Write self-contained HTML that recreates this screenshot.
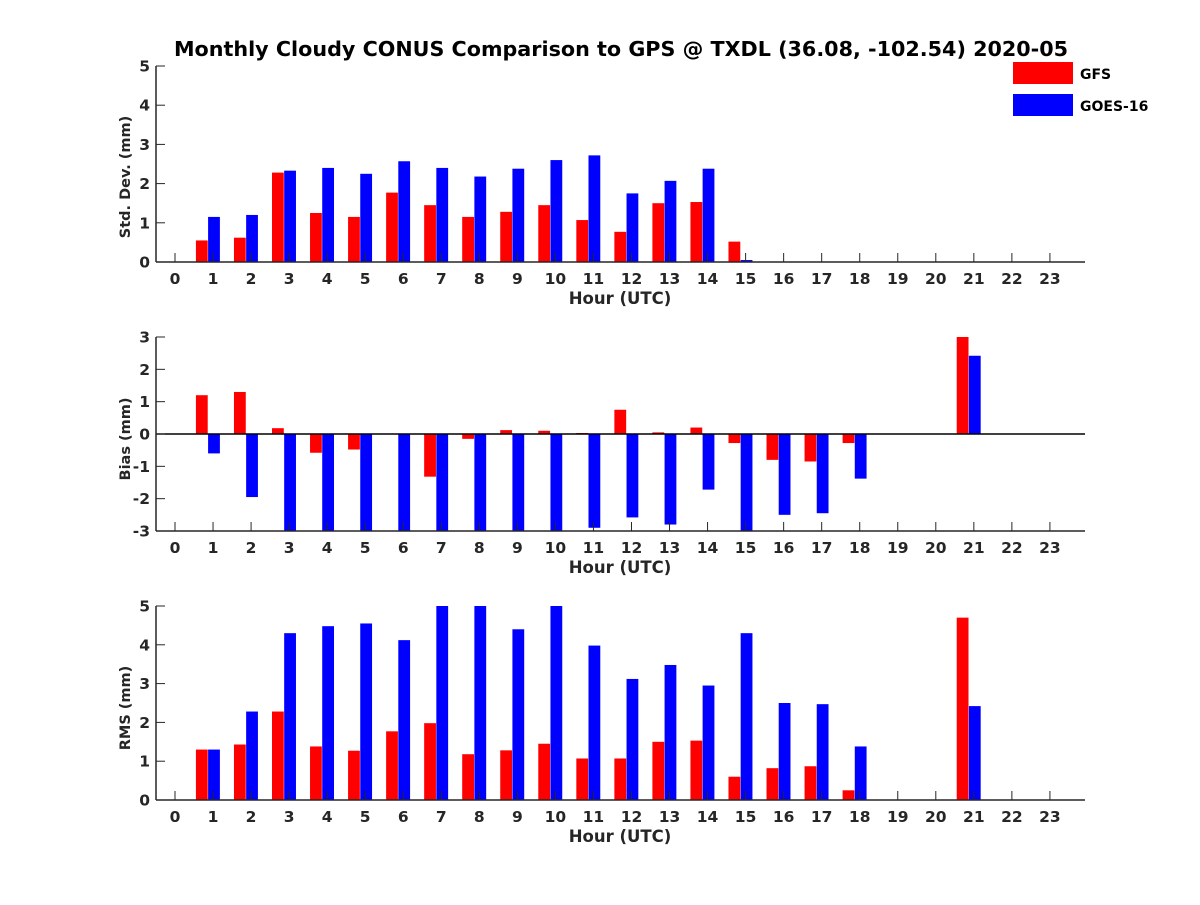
<!DOCTYPE html>
<html><head><meta charset="utf-8"><style>
body{margin:0;background:#fff}
svg text{font-family:"DejaVu Sans","Liberation Sans",sans-serif;font-weight:bold;fill:#262626}
</style></head><body>
<svg id="chart" width="1200" height="900" xmlns="http://www.w3.org/2000/svg">
<rect width="1200" height="900" fill="#fff"/>
<text x="621" y="56" text-anchor="middle" font-size="20.7" style="fill:#000">Monthly Cloudy CONUS Comparison to GPS @ TXDL (36.08, -102.54) 2020-05</text>
<g>
<rect x="1013" y="62" width="60" height="22" fill="#f00"/>
<text x="1080" y="79" font-size="14" style="fill:#000">GFS</text>
<rect x="1013" y="94" width="60" height="22" fill="#00f"/>
<text x="1080" y="111" font-size="14" style="fill:#000">GOES-16</text>
</g>
</svg>
<script>
const hours=[0,1,2,3,4,5,6,7,8,9,10,11,12,13,14,15,16,17,18,19,20,21,22,23];
const stdGFS=[0,0.55,0.62,2.28,1.25,1.15,1.77,1.45,1.15,1.28,1.45,1.07,0.77,1.5,1.53,0.52,0,0,0,0,0,0,0,0];
const stdGOES=[0,1.15,1.2,2.33,2.4,2.25,2.57,2.4,2.18,2.38,2.6,2.72,1.75,2.07,2.38,0.05,0,0,0,0,0,0,0,0];
const biasGFS=[0,1.2,1.3,0.18,-0.58,-0.48,0,-1.32,-0.15,0.12,0.1,0.03,0.75,0.05,0.2,-0.28,-0.8,-0.85,-0.28,0,0,3.0,0,0];
const biasGOES=[0,-0.6,-1.95,-3.5,-3.5,-3.5,-3.5,-3.5,-3.5,-3.5,-3.5,-2.9,-2.58,-2.8,-1.72,-3.5,-2.5,-2.45,-1.38,0,0,2.42,0,0];
const rmsGFS=[0,1.3,1.43,2.28,1.38,1.27,1.77,1.98,1.18,1.28,1.45,1.07,1.07,1.5,1.53,0.6,0.82,0.87,0.25,0,0,4.7,0,0];
const rmsGOES=[0,1.3,2.28,4.3,4.48,4.55,4.12,5.5,5.5,4.4,5.5,3.98,3.12,3.48,2.95,4.3,2.5,2.47,1.38,0,0,2.42,0,0];
const svg=document.getElementById('chart');
const NS='http://www.w3.org/2000/svg';
function mk(t,a){const e=document.createElementNS(NS,t);for(const k in a)e.setAttribute(k,a[k]);svg.appendChild(e);return e;}
const X0=156,X1=1085;
const xs=h=>175+h*38.04;
function panel(name,top,bot,ymin,ymax,yticks,ylabel,gfs,goes,cy){
  const ys=v=>bot-(v-ymin)/(ymax-ymin)*(bot-top);
  const clip=v=>Math.max(ymin,Math.min(ymax,v));
  const base=ys(clip(0));
  hours.forEach((h,i)=>{
    [[gfs[i],-0.45,'#f00','gfs'],[goes[i],-0.13,'#00f','goes']].forEach(([v,o,c,s])=>{
      if(!v)return;
      const y=ys(clip(v));
      const r=mk('rect',{x:xs(h+o),y:Math.min(y,base),width:0.31*38.04,height:Math.abs(y-base),fill:c});
      
      
    });
  });
  if(ymin<0){const z=mk('line',{x1:X0,x2:X1,y1:ys(0),y2:ys(0),stroke:'#000','stroke-width':1.5});
    }
  const ax=mk('line',{x1:X0,x2:X1,y1:bot,y2:bot,stroke:'#262626','stroke-width':1.5});
  
  const ay=mk('line',{x1:X0,x2:X0,y1:top,y2:bot,stroke:'#262626','stroke-width':1.5});
  
  hours.forEach(h=>{
    mk('line',{x1:xs(h),x2:xs(h),y1:bot,y2:bot-9,stroke:'#262626'});
    const t=mk('text',{x:xs(h),y:bot+22,'text-anchor':'middle','font-size':15.5});t.textContent=h;
    
  });
  yticks.forEach(v=>{
    mk('line',{x1:X0,x2:X0+9,y1:ys(v),y2:ys(v),stroke:'#262626'});
    const t=mk('text',{x:X0-6,y:ys(v)+5.5,'text-anchor':'end','font-size':15.5});t.textContent=v;
    
  });
  const xl=mk('text',{x:620,y:bot+42,'text-anchor':'middle','font-size':16.5});xl.textContent='Hour (UTC)';
  
  const yl=mk('text',{x:0,y:0,'text-anchor':'middle','font-size':14.5,transform:`translate(130,${cy}) rotate(-90)`});yl.textContent=ylabel;
  
}
panel('std-dev',66,262,0,5,[0,1,2,3,4,5],'Std. Dev. (mm)',stdGFS,stdGOES,177);
panel('bias',337,531,-3,3,[-3,-2,-1,0,1,2,3],'Bias (mm)',biasGFS,biasGOES,439);
panel('rms',606,800,0,5,[0,1,2,3,4,5],'RMS (mm)',rmsGFS,rmsGOES,708);
</script>
</body></html>
